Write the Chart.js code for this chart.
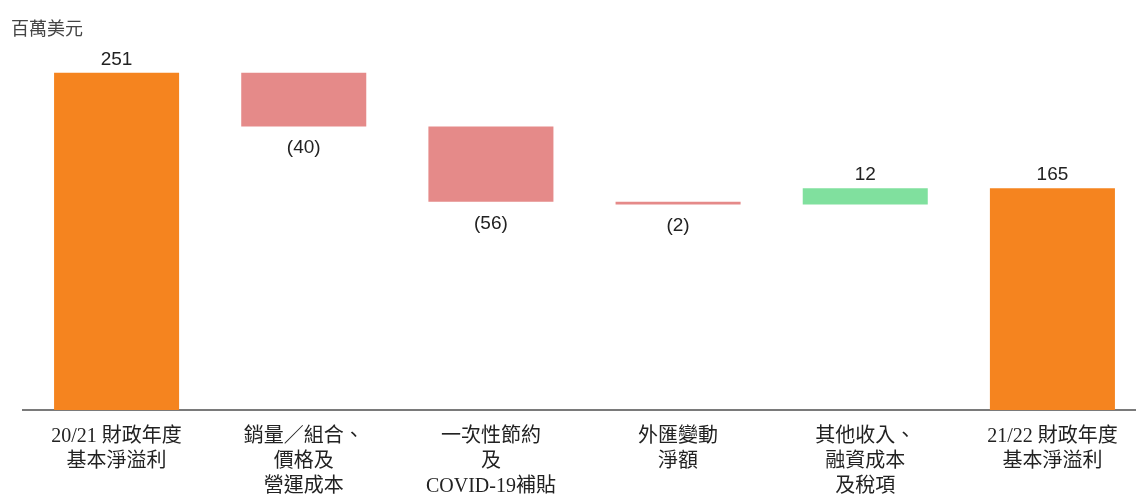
<!DOCTYPE html>
<html>
<head>
<meta charset="utf-8">
<script src="https://cdn.jsdelivr.net/npm/chart.js@4.4.0/dist/chart.umd.min.js"></script>
<style>
  html, body { margin: 0; padding: 0; background: #fff; overflow: hidden; }
  #wrap { position: relative; width: 1136px; height: 496px; overflow: hidden; }
  #unit { position: absolute; left: 11px; top: 14px; font: 18px "Noto Sans CJK TC", "Liberation Sans", sans-serif; color: #444; }
  canvas { position: absolute; left: 0; top: 0; }
</style>
</head>
<body>
<div id="wrap">
  <canvas id="chart" width="1146" height="496"></canvas>
  <div id="unit">百萬美元</div>
</div>
<script>
// categories and values (US$ millions)
const categories = [
  ["20/21 財政年度", "基本淨溢利"],
  ["銷量／組合、", "價格及", "營運成本"],
  ["一次性節約", "及", "COVID-19補貼"],
  ["外匯變動", "淨額"],
  ["其他收入、", "融資成本", "及稅項"],
  ["21/22 財政年度", "基本淨溢利"]
];
const values = [251, -40, -56, -2, 12, 165];
const isTotal = [true, false, false, false, false, true];
const valueLabels = ["251", "(40)", "(56)", "(2)", "12", "165"];

// build floating bars
let running = 0;
const ranges = values.map((v, i) => {
  if (isTotal[i]) {
    running = v;
    return [0, v];
  }
  const start = running;
  running += v;
  return [start, running];
});
const colors = values.map((v, i) => isTotal[i] ? "#F5841F" : (v < 0 ? "#E58A89" : "#80E09E"));

const labelPlugin = {
  id: "valueLabels",
  afterDatasetsDraw(chart) {
    const ctx = chart.ctx;
    const meta = chart.getDatasetMeta(0);
    ctx.save();
    ctx.font = '19px "Liberation Sans", Arial, sans-serif';
    ctx.fillStyle = "#222";
    ctx.textAlign = "center";
    meta.data.forEach((bar, i) => {
      const top = Math.min(bar.y, bar.base);
      const bottom = Math.max(bar.y, bar.base);
      if (values[i] < 0) {
        ctx.textBaseline = "top";
        ctx.fillText(valueLabels[i], bar.x, bottom + 12);
      } else {
        ctx.textBaseline = "bottom";
        ctx.fillText(valueLabels[i], bar.x, top - 4);
      }
    });
    ctx.restore();
  }
};

new Chart(document.getElementById("chart"), {
  type: "bar",
  data: {
    labels: categories,
    datasets: [{
      data: ranges,
      backgroundColor: colors,
      borderWidth: 0,
      barPercentage: 0.668,
      categoryPercentage: 1
    }]
  },
  options: {
    responsive: false,
    animation: false,
    devicePixelRatio: 1,
    layout: { padding: { left: 23, right: 0, top: 7, bottom: 0 } },
    plugins: {
      legend: { display: false },
      tooltip: { enabled: false }
    },
    scales: {
      x: {
        grid: { display: false },
        border: { display: true, color: "#7a7a7a", width: 2 },
        ticks: {
          color: "#222",
          padding: 6,
          maxRotation: 0,
          autoSkip: false,
          font: { family: '"Liberation Serif", "Noto Sans CJK TC", serif', size: 20, lineHeight: 1.25 }
        },
        afterFit: (scale) => { scale.height = 86; }
      },
      y: {
        display: false,
        min: 0,
        max: 300
      }
    }
  },
  plugins: [labelPlugin]
});
</script>
</body>
</html>
